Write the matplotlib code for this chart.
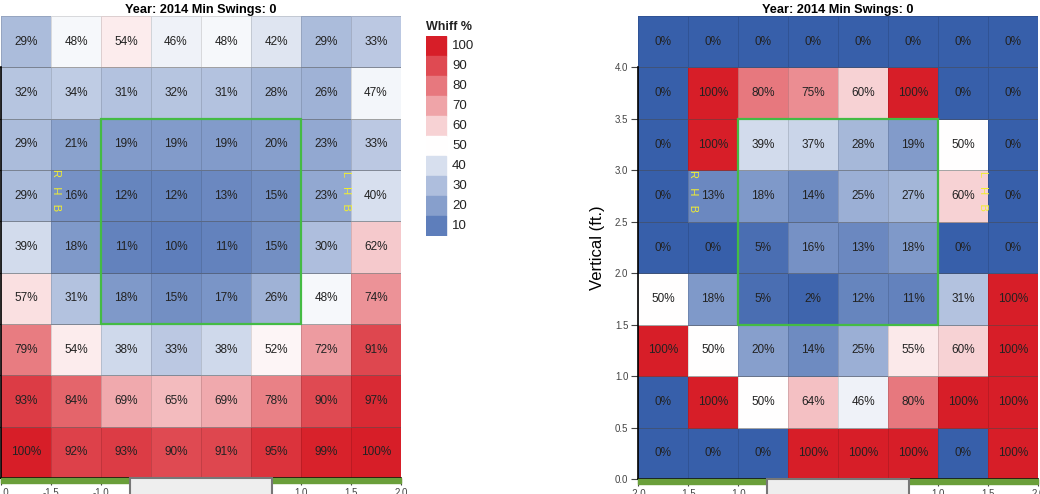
import numpy as np
import matplotlib.pyplot as plt
from matplotlib.colors import LinearSegmentedColormap
from matplotlib.patches import Rectangle

plt.rcParams['font.family'] = ['Liberation Sans', 'DejaVu Sans']
plt.rcParams['axes.unicode_minus'] = False

# whiff % grids, rows listed top (4.0-4.5 ft) to bottom (0-0.5 ft)
left_whiff = [
    [29, 48, 54, 46, 48, 42, 29, 33],
    [32, 34, 31, 32, 31, 28, 26, 47],
    [29, 21, 19, 19, 19, 20, 23, 33],
    [29, 16, 12, 12, 13, 15, 23, 40],
    [39, 18, 11, 10, 11, 15, 30, 62],
    [57, 31, 18, 15, 17, 26, 48, 74],
    [79, 54, 38, 33, 38, 52, 72, 91],
    [93, 84, 69, 65, 69, 78, 90, 97],
    [100, 92, 93, 90, 91, 95, 99, 100],
]
right_whiff = [
    [0, 0, 0, 0, 0, 0, 0, 0],
    [0, 100, 80, 75, 60, 100, 0, 0],
    [0, 100, 39, 37, 28, 19, 50, 0],
    [0, 13, 18, 14, 25, 27, 60, 0],
    [0, 0, 5, 16, 13, 18, 0, 0],
    [50, 18, 5, 2, 12, 11, 31, 100],
    [100, 50, 20, 14, 25, 55, 60, 100],
    [0, 100, 50, 64, 46, 80, 100, 100],
    [0, 0, 0, 100, 100, 100, 0, 100],
]
x_edges = np.arange(-2.0, 2.01, 0.5)
y_edges = np.arange(0.0, 4.51, 0.5)
legend_levels = [100, 90, 80, 70, 60, 50, 40, 30, 20, 10]
title = 'Year: 2014 Min Swings: 0'

cmap = LinearSegmentedColormap.from_list(
    'whiff', [(55/255, 95/255, 170/255), (1, 1, 1), (215/255, 30/255, 40/255)])

W, H = 1040, 494
fig = plt.figure(figsize=(W/100, H/100), dpi=100)


def heat(ax, grid, show_ylabels):
    z = np.array(grid)[::-1]
    ax.pcolormesh(x_edges, y_edges, z, cmap=cmap, vmin=0, vmax=100,
                  edgecolor=(0, 0, 0, 0.12), linewidth=0.6)
    xc = (x_edges[:-1] + x_edges[1:]) / 2
    yc = (y_edges[:-1] + y_edges[1:]) / 2
    for i, y in enumerate(yc):
        for j, x in enumerate(xc):
            ax.text(x, y, f'{z[i, j]}%', ha='center', va='center',
                    fontsize=8.5, color='#222222')
    for y in np.arange(0.5, 4.01, 0.5):
        ax.axhline(y, color='#555555', lw=0.6, alpha=0.5)
    # strike zone
    ax.add_patch(Rectangle((-1.0, 1.5), 2.0, 2.0, fill=False,
                           edgecolor='#44bb44', lw=1.6, zorder=5))
    ax.text(-1.5, 2.8, 'R   H   B', rotation=-90, ha='left', va='center',
            fontsize=8, color='#f2ee30', zorder=6)
    ax.text(1.5, 2.8, 'L   H   B', rotation=-90, ha='right', va='center',
            fontsize=8, color='#f2ee30', zorder=6)
    # ground strip and plate
    ax.add_patch(Rectangle((-2.0, -0.05), 4.0, 0.05, color='#6a9f3a',
                           clip_on=False, zorder=4))
    ax.add_patch(Rectangle((-0.71, -0.4), 1.42, 0.4, facecolor='#eeeeee',
                           edgecolor='#777777', lw=1.5, clip_on=False, zorder=7))
    ax.set_xlim(-2, 2)
    ax.set_ylim(0, 4.5)
    ax.set_xticks([-2.0, -1.5, -1.0, -0.5, 0.0, 0.5, 1.0, 1.5, 2.0])
    ax.set_xticklabels([f'{v:.1f}' for v in ax.get_xticks()])
    ax.set_yticks(np.arange(0, 4.01, 0.5))
    ax.set_yticklabels([f'{v:.1f}' for v in np.arange(0, 4.01, 0.5)])
    ax.tick_params(labelsize=7, colors='#444444', length=5, width=0.8, pad=2)
    for s in ['top', 'right']:
        ax.spines[s].set_visible(False)
    ax.spines['left'].set_bounds(0, 4.0)
    ax.spines['left'].set_linewidth(1.2)
    ax.spines['bottom'].set_linewidth(1.2)
    ax.set_title(title, fontsize=9.2, fontweight='bold', pad=2)
    if show_ylabels:
        ax.set_ylabel('Vertical (ft.)', fontsize=12, labelpad=7)


ax1 = fig.add_axes([1/W, 16/H, 400/W, 462/H])
heat(ax1, left_whiff, False)
ax2 = fig.add_axes([638/W, 15/H, 400/W, 463/H])
heat(ax2, right_whiff, True)

# legend
axl = fig.add_axes([426/W, (H - 236)/H, 100/W, 200/H])
axl.set_xlim(0, 100)
axl.set_ylim(200, 0)
axl.axis('off')
for k, lev in enumerate(legend_levels):
    axl.add_patch(Rectangle((0, k*20), 20, 20, color=cmap(lev/100)))
    axl.text(26, k*20 + 10, str(lev), ha='left', va='center', fontsize=9.5,
             color='#222222')
axl.text(0, -9, 'Whiff %', ha='left', va='center', fontsize=9,
         fontweight='bold', color='#222222')

fig.savefig('out.png', dpi=100)
